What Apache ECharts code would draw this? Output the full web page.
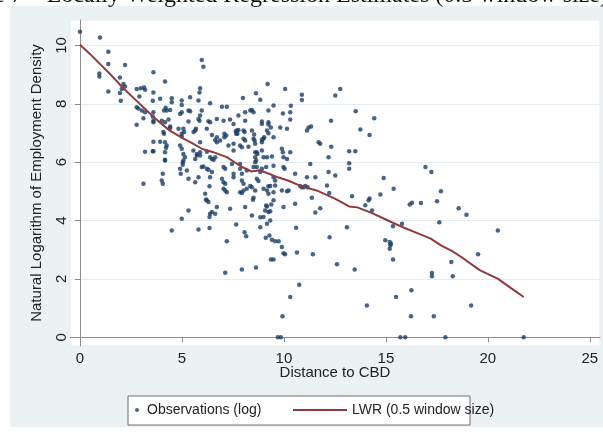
<!DOCTYPE html>
<html>
<head>
<meta charset="utf-8">
<script src="https://cdn.jsdelivr.net/npm/echarts@6/dist/echarts.min.js"></script>
<style>
html,body{margin:0;padding:0;background:#fff;}
#chart{width:603px;height:438px;}
</style>
</head>
<body>
<div id="chart"></div>
<script>
// Tick labels
const xTicks = [0, 5, 10, 15, 20, 25];
const yTicks = [0, 2, 4, 6, 8, 10];

// Observations: [distance to CBD, ln employment density]
const observations = [
[0.0,10.47],[0.98,10.27],[1.39,9.78],[1.39,9.36],[0.95,9.04],[0.95,8.93],[2.21,9.33],[1.96,8.9],[1.39,8.42],[2.13,8.68],
[2.21,8.59],[2.05,8.51],[1.96,8.37],[2.0,8.1],[3.6,9.08],[4.17,8.76],[2.78,8.51],[2.98,8.53],[3.14,8.56],[3.19,8.48],
[3.6,8.39],[2.91,8.25],[3.57,8.1],[3.93,8.17],[4.5,8.19],[4.5,8.05],[4.99,8.11],[4.99,7.96],[5.4,8.22],[5.86,8.39],
[2.78,7.88],[2.86,7.84],[3.03,7.77],[3.19,7.71],[3.11,7.5],[3.57,7.56],[4.2,7.86],[4.25,7.77],[4.42,7.79],[4.34,7.46],
[4.91,7.65],[4.99,7.71],[5.32,7.77],[5.4,7.74],[2.78,7.28],[4.01,7.42],[4.17,7.37],[4.42,7.22],[4.83,7.14],[5.81,7.48],
[5.86,7.42],[5.81,8.11],
[5.97,9.5],[6.05,9.27],[5.89,8.53],[6.38,8.02],[6.96,7.9],[7.2,7.9],[7.99,8.2],[8.84,8.14],[9.2,8.68],[10.06,8.51],
[10.88,8.31],[10.88,8.13],[8.63,8.36],[8.43,7.79],[8.51,7.71],[8.35,7.77],[8.1,7.71],[8.1,7.42],[9.24,7.77],[9.95,7.67],
[10.31,7.71],[10.31,7.46],[6.71,7.48],[7.04,7.42],[7.36,7.46],[6.3,7.4],[5.97,7.77],[5.69,7.14],[5.65,7.08],[6.22,7.14],
[6.47,6.93],[6.71,6.85],[7.08,6.97],[7.17,6.91],[7.08,6.85],[7.69,7.08],[7.66,6.97],[8.02,6.8],[8.1,6.74],[7.53,6.63],
[7.85,6.57],[7.94,6.51],[8.51,6.8],[8.56,6.74],[8.92,6.77],[9.03,6.85],[9.49,6.85],[9.82,7.19],[10.15,7.14],[11.13,7.08],
[11.21,7.19],[8.26,6.53],[8.67,6.34],[8.59,6.17],[8.64,6.06],[8.92,6.4],[9.0,6.17],[9.17,6.17],[9.41,6.19],[9.9,6.46],
[9.95,6.34],[9.98,6.17],[10.15,6.11],[10.55,5.6],[10.88,5.14],[11.05,5.18],[8.67,5.83],[8.92,5.77],[9.49,5.88],[7.28,6.57],
[7.53,6.4],[5.07,7.14],[5.11,7.03],[4.91,6.57],[4.99,6.46],[5.07,6.28],[5.15,6.17],[5.07,6.06],[4.17,6.68],[4.25,6.57],
[4.22,6.49],[3.93,6.7],[3.6,6.7],[3.19,6.36],[3.57,6.37],[4.17,6.06],[5.73,6.23],[5.65,6.11],[5.89,6.34],[5.97,5.83],
[6.05,5.85],[6.22,5.77],[6.3,5.74],[6.47,5.66],[6.38,5.48],[7.04,5.83],[7.12,5.77],[6.22,6.36],[6.63,6.17],[7.45,5.94],
[4.91,5.77],[4.94,5.6],[5.24,5.71],[5.32,5.43],[5.65,5.31],[5.81,5.48],[4.06,5.6],[4.01,5.37],[4.06,5.26],[3.11,5.26],
[6.96,5.43],[7.04,5.31],[7.12,5.26],[7.53,5.6],[7.53,5.48],[7.94,5.6],[8.18,5.71],[7.04,5.09],[7.12,5.03],[7.2,4.97],
[7.85,4.97],[8.02,5.03],[8.35,5.18],[8.43,5.14],[9.0,5.09],[9.33,5.18],[9.57,5.2],[9.24,4.92],[9.49,4.97],[9.9,5.03],
[10.23,5.03],[6.14,4.92],[6.22,4.69],[6.3,4.63],[6.71,4.46],[6.47,4.29],[6.38,4.23],[6.63,4.23],[7.36,4.4],[8.1,4.46],
[5.32,4.34],[4.99,4.06],[8.43,4.17],[8.84,4.11],[9.17,4.48],[9.24,4.29],[9.33,4.32],[9.49,4.69],[10.55,4.57],
[6.35,5.17],[6.18,4.72],[7.94,4.94],[8.18,5.09],[8.59,5.03],[8.51,4.78],[8.48,4.71],[9.17,5.03],[9.24,5.17],[10.15,5.0],
[6.35,4.12],[4.5,3.66],[5.81,3.69],[6.35,3.74],[7.66,3.86],[8.07,3.6],[8.15,3.46],[7.2,3.29],[9.0,4.12],[9.08,4.34],
[9.13,4.51],[9.38,4.55],[9.17,3.89],[9.33,4.0],[8.84,3.77],[9.11,3.41],[9.29,3.49],[9.41,3.34],[9.57,3.29],[9.74,3.29],
[9.98,4.46],[10.6,3.75],[9.9,3.09],[9.98,2.88],[10.06,2.84],[10.64,2.9],[9.36,2.66],[9.49,2.66],[7.12,2.21],[7.94,2.32],
[8.63,2.39],[10.75,1.8],[10.31,1.38],[9.93,0.72],[9.7,0],[9.85,0],
[11.37,4.78],[11.54,4.27],[11.78,4.42],[12.11,5.2],[12.22,4.94],[11.42,2.84],[12.24,3.43],[12.6,2.5],[13.09,3.77],[13.34,4.83],
[13.47,2.32],[13.99,4.52],[14.15,4.69],[14.2,4.75],[14.32,4.34],[14.07,1.09],[14.73,4.89],[14.97,3.32],[15.19,3.26],[15.22,3.15],
[15.19,3.03],[15.25,3.2],[15.35,3.8],[15.38,5.09],[15.79,3.89],[15.35,2.66],[15.5,1.38],[15.71,0],[15.95,0],[16.25,1.61],
[16.23,0.72],[16.17,4.55],[16.28,4.61],[16.72,4.6],[17.26,2.2],[17.26,2.09],[17.35,0.72],[17.51,4.66],[17.62,3.94],[17.7,5.0],
[17.92,0],[18.21,2.58],[18.28,2.09],[18.57,4.42],[18.95,4.2],[19.18,1.09],[19.52,2.84],[20.49,3.66],[21.76,0],
[9.49,7.94],[10.34,7.93],[8.92,7.39],[9.24,7.29],[9.36,7.19],[8.43,7.08],[8.59,6.63],[8.92,6.68],[9.0,6.8],[8.59,6.34],
[8.59,6.0],[10.31,6.34],[8.51,5.83],[8.84,5.66],[9.13,5.83],[9.98,5.83],[10.03,5.77],[11.13,5.48],[11.54,5.48],[11.29,5.94],
[11.33,7.22],[11.78,6.63],[11.7,6.68],[12.31,7.42],[12.32,6.53],[12.19,6.17],[12.19,5.66],[12.52,5.54],[12.52,8.28],[12.76,8.51],
[10.8,5.18],[10.96,5.14],[11.16,5.14],[13.2,6.37],[13.5,6.37],[13.2,5.96],[13.2,5.77],[13.52,7.74],[13.75,7.12],[14.2,6.93],
[14.43,7.5],[14.89,5.46],[16.94,5.83],[17.23,5.66],
[3.6,7.71],[4.12,7.77],[5.32,7.39],[5.89,7.6],[6.38,7.37],[7.77,7.6],[9.24,7.37],[8.92,7.31],[7.53,7.31],[8.02,7.08],
[8.07,7.03],[5.57,7.03],[3.6,7.42],[3.6,7.37],[4.09,7.03],[4.12,6.97],[4.42,7.17],[4.99,6.97],[4.99,6.88],[5.89,6.68],
[6.63,6.76],[6.71,6.68],[6.87,6.74],[7.64,7.06],[7.72,6.97],[7.77,7.1],[9.17,7.08],[9.24,6.99],[8.54,6.95],[8.7,6.28],
[3.6,6.37],[4.17,6.34],[4.17,6.08],[5.04,6.0],[5.04,5.91],[5.56,6.4],[5.73,6.28],[5.89,6.23],[6.38,6.17],[6.47,6.11],
[6.55,6.08],[7.85,5.94],[7.85,5.77],[7.94,5.37],[8.02,5.26],[8.67,5.43],[8.75,5.35],[9.49,5.48],[9.57,5.37]
];

// Locally weighted regression fit (0.5 window size)
const lwrX = [0, 0.5, 1, 1.5, 2.1, 2.7, 3.3, 3.6, 4.4, 5.1, 5.5, 6.0, 6.5, 7.2, 7.9, 8.4, 8.8, 9.2, 9.7, 10.2,
  10.9, 11.6, 12.5, 13.2, 13.6, 14.3, 15.1, 15.9, 16.6, 17.2, 17.7, 18.3, 18.8, 19.6, 20.5, 21.1, 21.76];
const lwrY = [10.02, 9.7, 9.35, 9.0, 8.55, 8.15, 7.75, 7.55, 7.08, 6.8, 6.65, 6.45, 6.35, 6.17, 5.85, 5.68, 5.72, 5.62, 5.48, 5.37,
  5.16, 5.03, 4.75, 4.48, 4.45, 4.26, 4.0, 3.75, 3.55, 3.38, 3.15, 2.93, 2.7, 2.3, 2.0, 1.7, 1.38];

const obsName = 'Observations (log)';
const lwrName = 'LWR (0.5 window size)';
const xName = 'Distance to CBD';
const yName = 'Natural Logarithm of Employment Density';
const titleText = 'Figure 7 \u2013 Locally Weighted Regression Estimates (0.5 window size)';

const chart = echarts.init(document.getElementById('chart'), null, {renderer: 'canvas'});
const font = '"Liberation Sans", Arial, sans-serif';

chart.setOption({
  backgroundColor: '#ffffff',
  animation: false,
  graphic: [
    {type: 'rect', z: -10, silent: true, shape: {x: 10, y: 6, width: 593, height: 421}, style: {fill: '#eaf2f3'}},
    {type: 'rect', z: -5, silent: true, shape: {x: 128, y: 396, width: 342, height: 29},
      style: {fill: '#ffffff', stroke: '#6e6e6e', lineWidth: 1}},
    {type: 'text', z: 10, silent: true, x: -58, y: 8,
      style: {text: titleText, font: '24px "Liberation Serif", "Times New Roman", serif', fill: '#111',
        textVerticalAlign: 'bottom', verticalAlign: 'bottom'}}
  ],
  grid: {left: 70, right: 3, top: 20, bottom: 92, show: true, backgroundColor: '#ffffff',
    borderColor: '#e3ebed', borderWidth: 1, containLabel: false},
  xAxis: {
    type: 'value', min: -0.49, max: 25.5,
    name: xName, nameLocation: 'middle', nameGap: 19, nameMoveOverlap: false,
    nameTextStyle: {fontFamily: font, fontSize: 15, color: '#222'},
    axisLine: {show: true, lineStyle: {color: '#8c8c8c', width: 1}},
    axisTick: {show: true, length: 5, lineStyle: {color: '#8c8c8c'}, customValues: xTicks},
    axisLabel: {fontFamily: font, fontSize: 15, color: '#222', margin: 5, customValues: xTicks},
    splitLine: {show: false}
  },
  yAxis: {
    type: 'value', min: -0.3, max: 10.87,
    name: yName, nameLocation: 'middle', nameGap: 26, nameRotate: 90,
    nameTextStyle: {fontFamily: font, fontSize: 15, color: '#222'},
    axisLine: {show: true, lineStyle: {color: '#8c8c8c', width: 1}},
    axisTick: {show: true, length: 5, lineStyle: {color: '#8c8c8c'}, customValues: yTicks},
    axisLabel: {fontFamily: font, fontSize: 15, color: '#222', margin: 1, rotate: 90, customValues: yTicks},
    splitLine: {show: true, lineStyle: {color: '#e5edef', width: 1}}
  },
  legend: [
    {data: [{name: obsName, icon: 'circle'}], left: 135, top: 403, itemWidth: 10, itemHeight: 4,
      textStyle: {fontFamily: font, fontSize: 14, color: '#222'}, padding: 0, selectedMode: false},
    {data: [{name: lwrName, icon: 'rect'}], left: 293, top: 403, itemWidth: 54, itemHeight: 2,
      textStyle: {fontFamily: font, fontSize: 14, color: '#222'}, padding: 0, selectedMode: false}
  ],
  series: [
    {name: obsName, type: 'scatter', data: observations, symbol: 'circle', symbolSize: 4.5,
      itemStyle: {color: '#1a3f68'}, z: 2},
    {name: lwrName, type: 'line', data: lwrX.map((x, i) => [x, lwrY[i]]), symbol: 'none', showSymbol: false,
      lineStyle: {color: '#8f3a3e', width: 2}, itemStyle: {color: '#8f3a3e'}, z: 3}
  ]
});
</script>
</body>
</html>
